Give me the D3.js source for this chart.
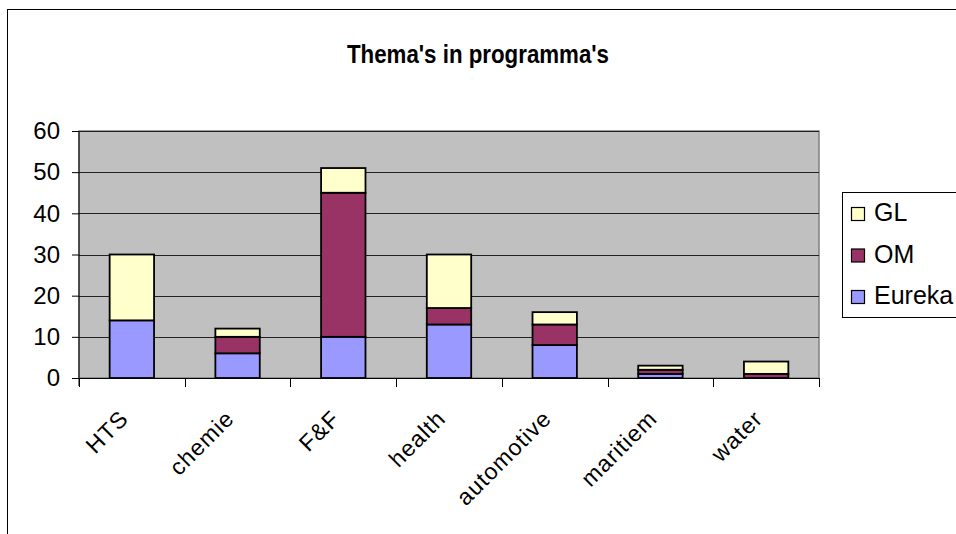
<!DOCTYPE html>
<html>
<head>
<meta charset="utf-8">
<script src="https://cdn.jsdelivr.net/npm/d3@7"></script>
<style>
  body { margin: 0; background: #fff; }
  svg { display: block; font-family: "Liberation Sans", Arial, sans-serif; }
</style>
</head>
<body>
<svg id="chart" width="956" height="534"></svg>
<script>
// data
var categories = ["HTS", "chemie", "F&F", "health", "automotive", "maritiem", "water"];
var eureka = [14, 6, 10, 13, 8, 1, 0];
var om     = [0, 4, 35, 4, 5, 1, 1];
var gl     = [16, 2, 6, 13, 3, 1, 3];
var seriesNames = ["Eureka", "OM", "GL"];
var seriesColors = ["#9999ff", "#993366", "#ffffcc"];
var yTicks = [0, 10, 20, 30, 40, 50, 60];
var title = "Thema's in programma's";

var svg = d3.select("#chart");

var plot = {left: 79, right: 819, top: 131, bottom: 378};

// outer chart frame (runs past the window edges)
svg.append("rect")
  .attr("x", 7.5).attr("y", 9.5)
  .attr("width", 1000).attr("height", 600)
  .attr("fill", "white")
  .attr("stroke", "black")
  .attr("stroke-width", 1);

svg.append("text")
  .attr("x", 478)
  .attr("y", 63)
  .attr("text-anchor", "middle")
  .attr("font-size", 26)
  .attr("font-weight", "bold")
  .attr("textLength", 262)
  .attr("lengthAdjust", "spacingAndGlyphs")
  .text(title);

var x = d3.scaleBand()
  .domain(categories)
  .range([plot.left, plot.right])
  .paddingInner(0.58)
  .paddingOuter(0.29);

var y = d3.scaleLinear()
  .domain([0, 60])
  .range([plot.bottom, plot.top]);

// plot area
svg.append("rect")
  .attr("x", plot.left).attr("y", plot.top)
  .attr("width", plot.right - plot.left)
  .attr("height", plot.bottom - plot.top)
  .attr("fill", "#c0c0c0")
  .attr("stroke", "#808080")
  .attr("stroke-width", 1.5);

// gridlines
svg.append("g")
  .selectAll("line")
  .data(yTicks.slice(1))
  .enter().append("line")
  .attr("x1", plot.left).attr("x2", plot.right)
  .attr("y1", function(d) { return Math.round(y(d)) + 0.5; })
  .attr("y2", function(d) { return Math.round(y(d)) + 0.5; })
  .attr("stroke", "#222")
  .attr("stroke-width", 1);

// stacked bars
var table = categories.map(function(c, i) {
  return {cat: c, Eureka: eureka[i], OM: om[i], GL: gl[i]};
});
var stacked = d3.stack().keys(seriesNames)(table);

svg.append("g")
  .selectAll("g")
  .data(stacked)
  .enter().append("g")
  .attr("fill", function(d, i) { return seriesColors[i]; })
  .selectAll("rect")
  .data(function(d) { return d.filter(function(p) { return p[1] > p[0]; }); })
  .enter().append("rect")
  .attr("x", function(d) { return x(d.data.cat); })
  .attr("y", function(d) { return y(d[1]); })
  .attr("width", x.bandwidth())
  .attr("height", function(d) { return y(d[0]) - y(d[1]); })
  .attr("stroke", "#000")
  .attr("stroke-width", 1.8);

// y axis
var yAxis = svg.append("g")
  .attr("transform", "translate(" + plot.left + ",0)")
  .call(d3.axisLeft(y).tickValues(yTicks).tickSize(7).tickPadding(12));
yAxis.select(".domain").attr("stroke", "#000").attr("d", "M0," + plot.top + "V" + (plot.bottom + 8));
yAxis.selectAll("line").attr("stroke", "#000");
yAxis.selectAll("text")
  .attr("font-size", 24)
  .attr("font-family", "Liberation Sans, Arial, sans-serif")
  .attr("fill", "#000");

// x axis
var xAxis = svg.append("g")
  .attr("transform", "translate(0," + plot.bottom + ")");
xAxis.append("line")
  .attr("x1", plot.left - 7).attr("x2", plot.right)
  .attr("y1", 0.5).attr("y2", 0.5)
  .attr("stroke", "#000");
var edges = d3.range(categories.length + 1).map(function(i) {
  return plot.left + i * x.step();
});
xAxis.selectAll(".tk")
  .data(edges)
  .enter().append("line")
  .attr("x1", function(d) { return Math.round(d) + 0.5; })
  .attr("x2", function(d) { return Math.round(d) + 0.5; })
  .attr("y1", 0).attr("y2", 9)
  .attr("stroke", "#000");
xAxis.selectAll("text")
  .data(categories)
  .enter().append("text")
  .attr("transform", function(d) {
    return "translate(" + (x(d) + x.bandwidth() / 2 - 2) + ",42) rotate(-45)";
  })
  .attr("text-anchor", "end")
  .attr("font-size", 23)
  .attr("letter-spacing", 1)
  .text(function(d) { return d; });

// legend
var legend = svg.append("g").attr("transform", "translate(842,192)");
legend.append("rect")
  .attr("x", 0.5).attr("y", 0.5)
  .attr("width", 200).attr("height", 125)
  .attr("fill", "white")
  .attr("stroke", "#000");
var legendItems = seriesNames.slice().reverse();
legend.selectAll("g")
  .data(legendItems)
  .enter().append("g")
  .attr("transform", function(d, i) { return "translate(9," + (22 + i * 41.5) + ")"; })
  .each(function(d) {
    var g = d3.select(this);
    g.append("rect")
      .attr("x", 0.5).attr("y", -6.5)
      .attr("width", 13).attr("height", 13)
      .attr("fill", seriesColors[seriesNames.indexOf(d)])
      .attr("stroke", "#000")
      .attr("stroke-width", 1.2);
    g.append("text")
      .attr("x", 23)
      .attr("y", 7)
      .attr("font-size", 25)
      .text(d);
  });
</script>
</body>
</html>
